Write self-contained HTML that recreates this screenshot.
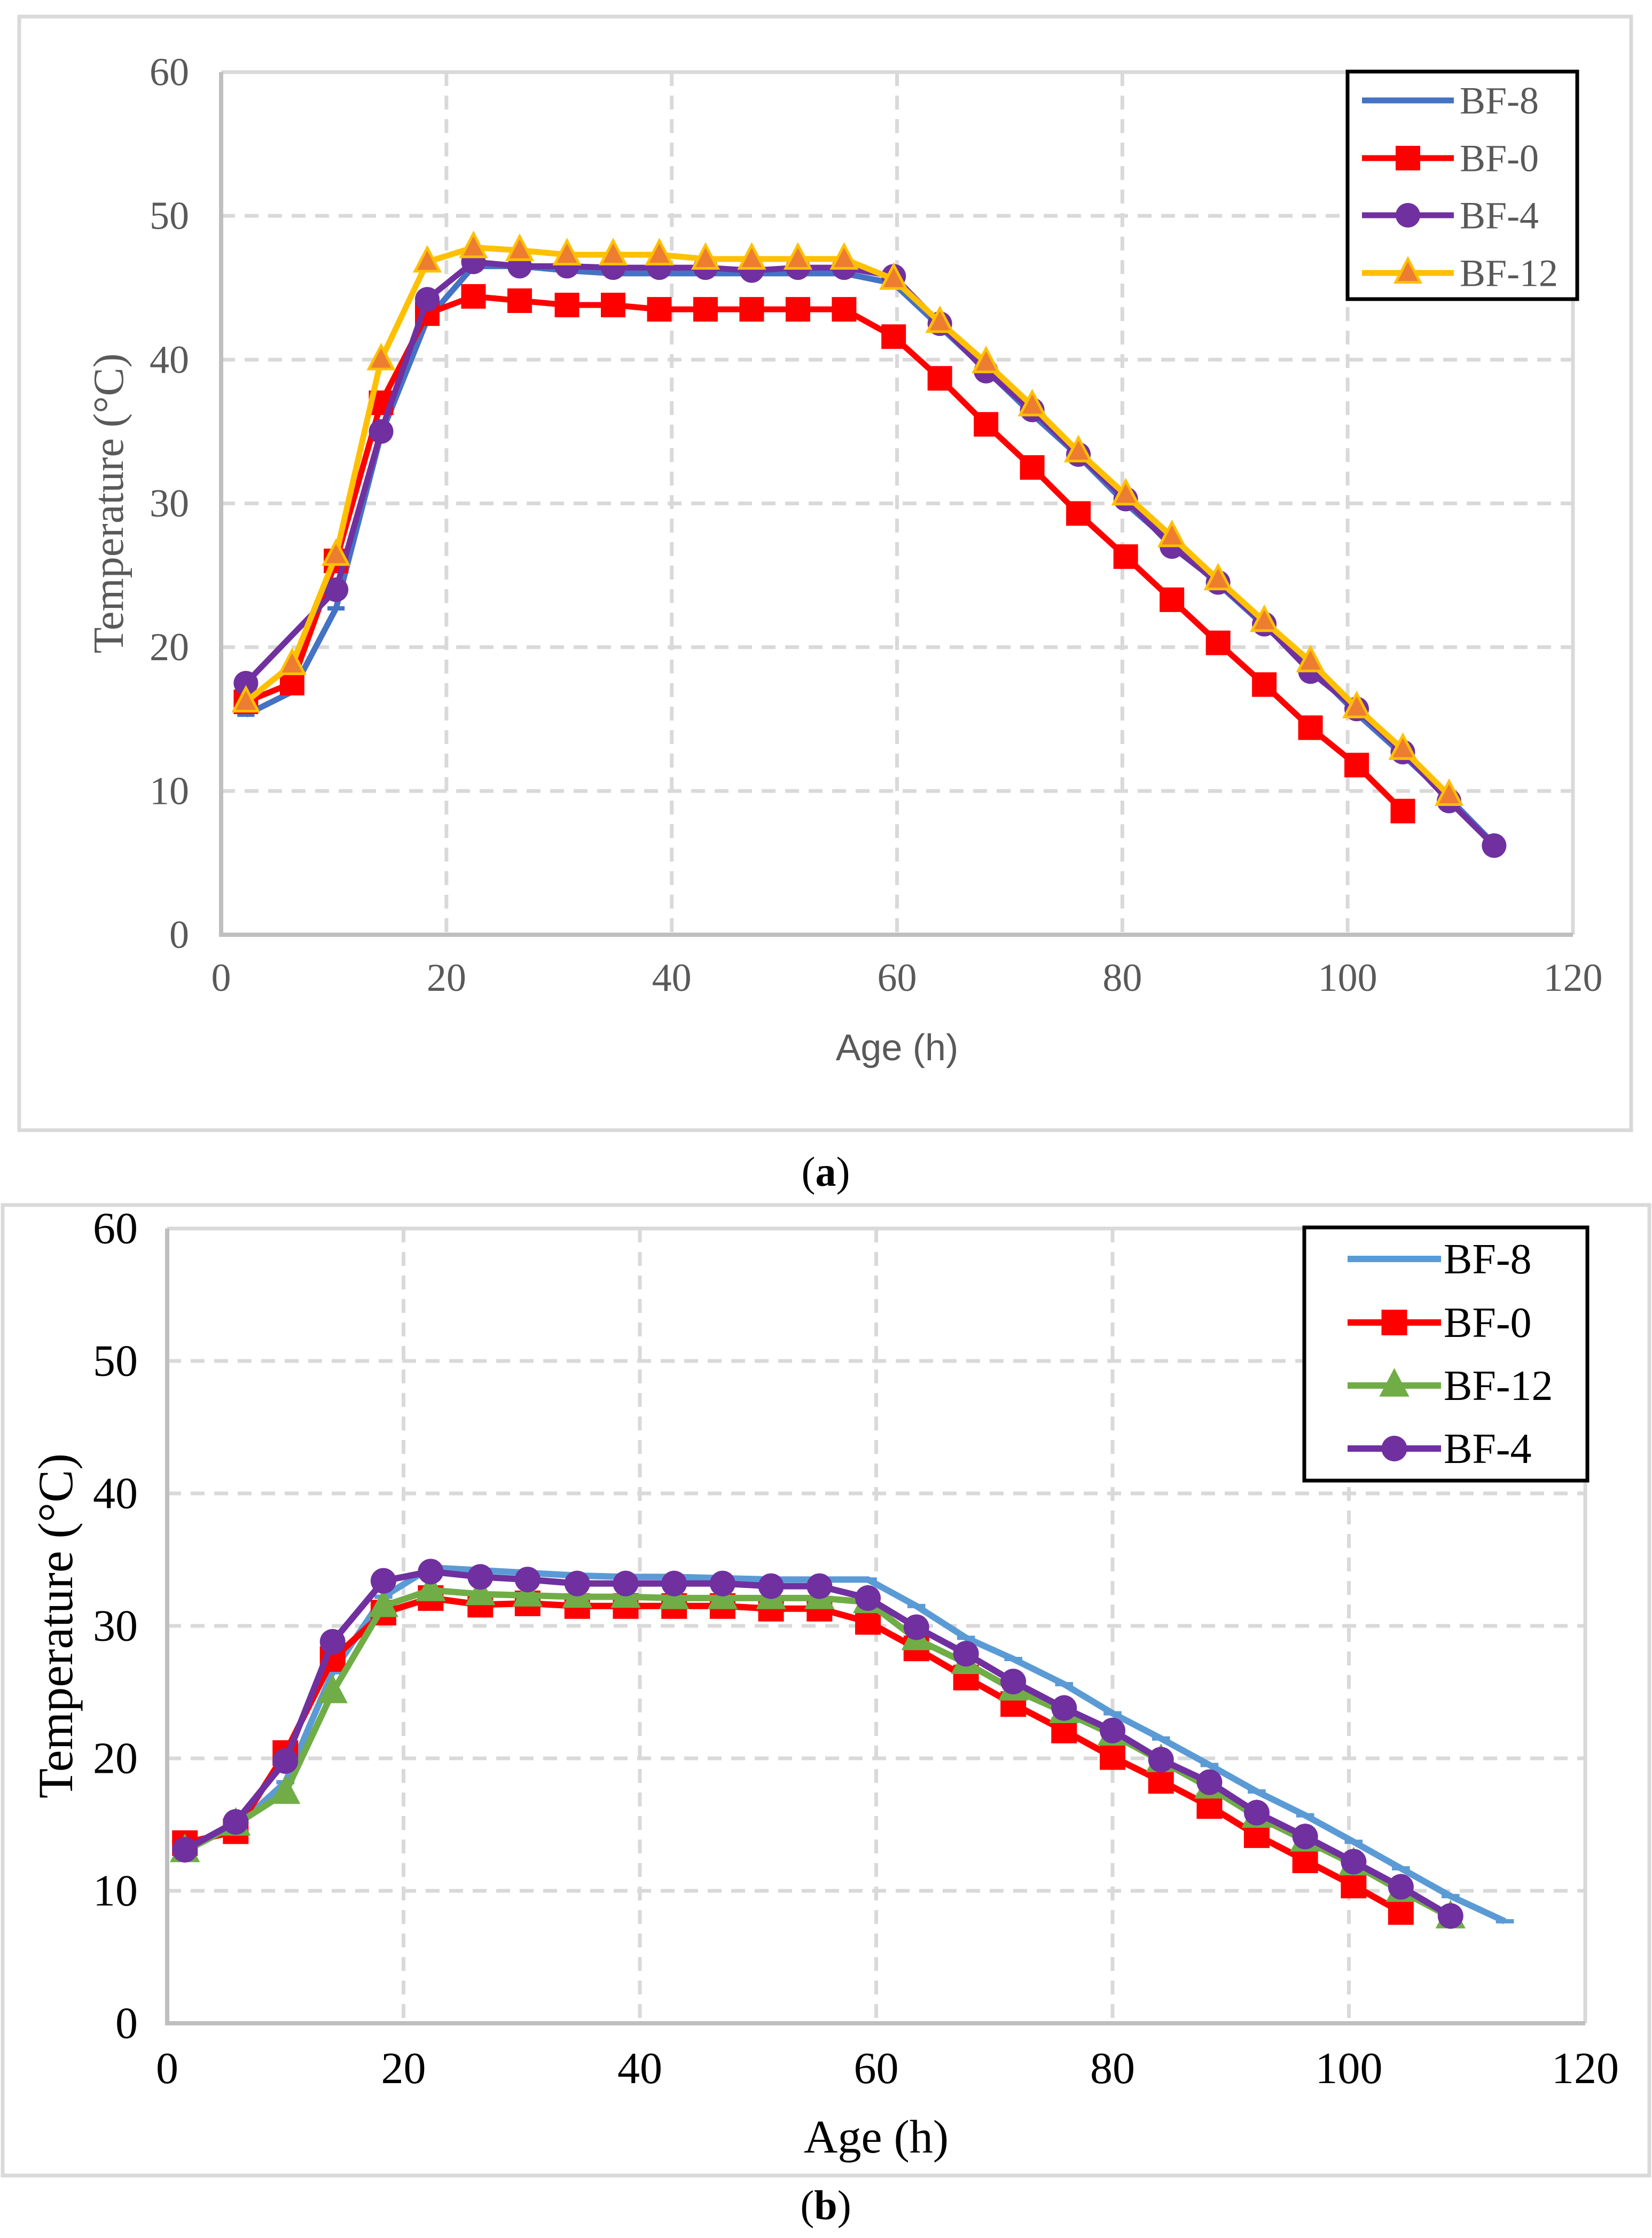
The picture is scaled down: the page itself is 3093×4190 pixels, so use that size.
<!DOCTYPE html>
<html><head><meta charset="utf-8">
<style>
html,body{margin:0;padding:0;background:#fff;}
svg{display:block;}
</style></head>
<body>
<svg id="fig" width="3093" height="4190" viewBox="0 0 3093 4190" xmlns="http://www.w3.org/2000/svg">
<rect x="36" y="31" width="3018" height="2085" fill="#fff" stroke="#d9d9d9" stroke-width="7"/>
<rect x="5" y="2256" width="3083" height="1817" fill="#fff" stroke="#d9d9d9" stroke-width="7"/>
<text x="1546" y="2220" font-family="Liberation Serif, serif" font-size="78" text-anchor="middle">(<tspan font-weight="bold">a</tspan>)</text>
<text x="1546" y="4155" font-family="Liberation Serif, serif" font-size="78" text-anchor="middle">(<tspan font-weight="bold">b</tspan>)</text>
<g id="ga"></g>
<g id="gb"></g>
</svg>
<script>
// ---- Chart (a) data ----
const xA = [2.2,6.3,10.2,14.2,18.3,22.4,26.5,30.7,34.8,38.9,43,47.1,51.2,55.3,59.7,63.8,67.9,72,76.1,80.3,84.4,88.5,92.6,96.7,100.8,104.9,109,113];
const xA4 = [2.2,10.2,14.2,18.3,22.4,26.5,30.7,34.8,38.9,43,47.1,51.2,55.3,59.7,63.8,67.9,72,76.1,80.3,84.4,88.5,92.6,96.7,100.8,104.9,109,113];
const aBF8 = [15.3,16.9,22.7,34.8,42.8,46.5,46.5,46.2,46.0,46.0,46.0,46.0,46.0,46.0,45.3,42.3,39.3,36.2,33.3,30.0,27.2,24.4,21.5,18.6,15.4,12.5,9.5,6.3];
const aBF0 = [16.2,17.5,26,37,43.2,44.4,44.1,43.8,43.8,43.5,43.5,43.5,43.5,43.5,41.6,38.7,35.5,32.5,29.3,26.3,23.3,20.3,17.4,14.4,11.8,8.6];
const aBF4 = [17.5,24,35,44.2,46.8,46.5,46.5,46.4,46.4,46.4,46.2,46.4,46.4,45.8,42.5,39.2,36.5,33.4,30.3,27,24.5,21.6,18.3,15.7,12.7,9.3,6.2];
const aBF12 = [16.2,18.8,26.4,40.0,46.8,47.8,47.6,47.3,47.3,47.3,47.0,47.0,47.0,47.0,45.6,42.6,39.8,36.8,33.6,30.6,27.7,24.7,21.8,19.0,15.8,12.9,9.7];
// ---- Chart (b) data ----
const xB = [1.5,5.8,10,14,18.3,22.3,26.5,30.5,34.7,38.8,42.9,47,51.1,55.2,59.3,63.4,67.6,71.6,75.9,80,84.1,88.2,92.2,96.3,100.4,104.4,108.6,113.2];
const bBF8 = [13.3,14.8,18.2,26.5,32.2,34.4,34.2,34.0,33.8,33.7,33.7,33.6,33.5,33.5,33.5,31.5,29.1,27.5,25.6,23.4,21.5,19.5,17.5,15.7,13.7,11.7,9.6,7.7];
const bBF0 = [13.6,14.5,20.4,27.5,31.0,32.1,31.6,31.7,31.5,31.5,31.5,31.5,31.3,31.3,30.3,28.3,26.1,24.1,22.1,20.1,18.3,16.4,14.2,12.3,10.4,8.4];
const bBF12 = [13.0,15.0,17.4,25.0,31.5,32.7,32.4,32.3,32.2,32.2,32.1,32.1,32.1,32.1,31.8,29.0,27.2,25.2,23.5,21.8,19.8,17.8,15.6,13.8,12.0,10.0,8.0];
const bBF4 = [13.1,15.2,19.8,28.8,33.4,34.1,33.7,33.5,33.2,33.2,33.2,33.2,33.0,33.0,32.1,29.9,27.9,25.8,23.8,22.1,19.9,18.2,15.9,14.1,12.2,10.3,8.1];
const xTicks = [0,20,40,60,80,100,120];
const yTicks = [0,10,20,30,40,50,60];

const NS='http://www.w3.org/2000/svg';
function mk(parent,tag,attrs){const e=document.createElementNS(NS,tag);for(const k in attrs)e.setAttribute(k,attrs[k]);parent.appendChild(e);return e;}

function chart(g,cfg){
  const L=cfg.L,R=cfg.R,T=cfg.T,B=cfg.B;
  const sx=v=>L+(v-0)/120*(R-L);
  const sy=v=>B-(v-0)/60*(B-T);
  yTicks.forEach(t=>{ if(t===0)return;
    const l=mk(g,'line',{x1:L,x2:R,y1:sy(t),y2:sy(t),stroke:'#d9d9d9','stroke-width':7,'stroke-dasharray':t===60?'none':'26,18'});
    
    
  });
  xTicks.forEach(t=>{ if(t===0)return;
    const l=mk(g,'line',{x1:sx(t),x2:sx(t),y1:T,y2:B,stroke:'#d9d9d9','stroke-width':7,'stroke-dasharray':t===120?'none':'26,18'});
    
    
  });
  const ax=mk(g,'path',{d:`M${L},${T}V${B}H${R}`,fill:'none',stroke:'#bfbfbf','stroke-width':8});
  
  
  yTicks.forEach(t=>{
    const e=mk(g,'text',{x:L-cfg.ylabOff,y:sy(t)+cfg.tfs*0.33,'text-anchor':'end','font-family':'Liberation Serif, serif','font-size':cfg.tfs,fill:cfg.tc});
    e.textContent=t;
    
    
  });
  xTicks.forEach(t=>{
    const e=mk(g,'text',{x:sx(t),y:B+cfg.xlabOff,'text-anchor':'middle','font-family':'Liberation Serif, serif','font-size':cfg.tfs,fill:cfg.tc});
    e.textContent=t;
    
    
  });
  const yt=mk(g,'text',{x:0,y:0,transform:`translate(${cfg.ytX},${(T+B)/2}) rotate(-90)`,'text-anchor':'middle','font-family':'Liberation Serif, serif','font-size':cfg.atfs,fill:cfg.tc});
  yt.textContent='Temperature (°C)';
  
  
  const xt=mk(g,'text',{x:(L+R)/2,y:cfg.xtY,'text-anchor':'middle','font-family':cfg.xtFont,'font-size':cfg.xtfs,fill:cfg.tc});
  xt.textContent='Age (h)';
  
  
  cfg.series.forEach(s=>{
    const sg=mk(g,'g',{});
    
    
    const pts=s.y.map((v,i)=>[sx(s.x[i]),sy(v)]);
    const pl=mk(sg,'polyline',{points:pts.map(p=>p.join(',')).join(' '),fill:'none',stroke:s.color,'stroke-width':cfg.lw,'stroke-linejoin':'round'});
    
    
    pts.forEach(p=>{const m=marker(sg,s,p[0],p[1],cfg.ms);
      
      });
  });
  const lg=mk(g,'g',{});
  
  
  const lb=cfg.leg;
  mk(lg,'rect',{x:lb.x,y:lb.y,width:lb.w,height:lb.h,fill:'#fff',stroke:'#000','stroke-width':7});
  cfg.legOrder.forEach((s,i)=>{
    const ey=lb.ys[i];
    const eg=mk(lg,'g',{});
    
    
    mk(eg,'line',{x1:lb.lx1,x2:lb.lx2,y1:ey,y2:ey,stroke:s.color,'stroke-width':cfg.lw});
    marker(eg,s,(lb.lx1+lb.lx2)/2,ey,cfg.ms);
    const t=mk(eg,'text',{x:lb.tx,y:ey+lb.fs*0.34,'font-family':'Liberation Serif, serif','font-size':lb.fs,fill:cfg.tc});
    t.textContent=s.name;
  });
}
function marker(p,s,x,y,ms){
  if(s.m==='square')return mk(p,'rect',{x:x-ms/2,y:y-ms/2,width:ms,height:ms,fill:s.color});
  if(s.m==='circle')return mk(p,'circle',{cx:x,cy:y,r:ms/2,fill:s.color});
  if(s.m==='tri'){const h=ms*0.95;return mk(p,'polygon',{points:`${x},${y-h*0.6} ${x-ms/2},${y+h*0.4} ${x+ms/2},${y+h*0.4}`,fill:s.mfill,stroke:s.color,'stroke-width':5});}
  return mk(p,'rect',{x:x-ms*0.35,y:y-4,width:ms*0.7,height:8,fill:s.color});
}
const sA8={name:'BF-8',x:xA,y:aBF8,color:'#4472c4',m:'dash'};
const sA0={name:'BF-0',x:xA,y:aBF0,color:'#ff0000',m:'square'};
const sA4={name:'BF-4',x:xA4,y:aBF4,color:'#7030a0',m:'circle'};
const sA12={name:'BF-12',x:xA,y:aBF12,color:'#ffc000',m:'tri',mfill:'#ed7d31'};
chart(document.getElementById('ga'),{L:414,R:2945,T:135,B:1750,tc:'#595959',tfs:74,ylabOff:60,xlabOff:105,
  ytX:230,atfs:80,xtY:1985,xtFont:'Liberation Sans, sans-serif',xtfs:70,lw:11,ms:46,
  series:[sA8,sA0,sA4,sA12],legOrder:[sA8,sA0,sA4,sA12],
  leg:{x:2523,y:134,w:430,h:426,ys:[188,296,403,511],lx1:2550,lx2:2722,tx:2733,fs:72}});
const sB8={name:'BF-8',x:xB,y:bBF8,color:'#5b9bd5',m:'dash'};
const sB0={name:'BF-0',x:xB,y:bBF0,color:'#ff0000',m:'square'};
const sB12={name:'BF-12',x:xB,y:bBF12,color:'#70ad47',m:'tri',mfill:'#70ad47'};
const sB4={name:'BF-4',x:xB,y:bBF4,color:'#7030a0',m:'circle'};
chart(document.getElementById('gb'),{L:313,R:2968,T:2300,B:3788,tc:'#000',tfs:84,ylabOff:55,xlabOff:112,
  ytX:135,atfs:92,xtY:4030,xtFont:'Liberation Serif, serif',xtfs:88,lw:12,ms:48,
  series:[sB8,sB0,sB12,sB4],legOrder:[sB8,sB0,sB12,sB4],
  leg:{x:2442,y:2298,w:530,h:474,ys:[2357,2476,2594,2712],lx1:2523,lx2:2698,tx:2703,fs:80}});
</script>
</body></html>
